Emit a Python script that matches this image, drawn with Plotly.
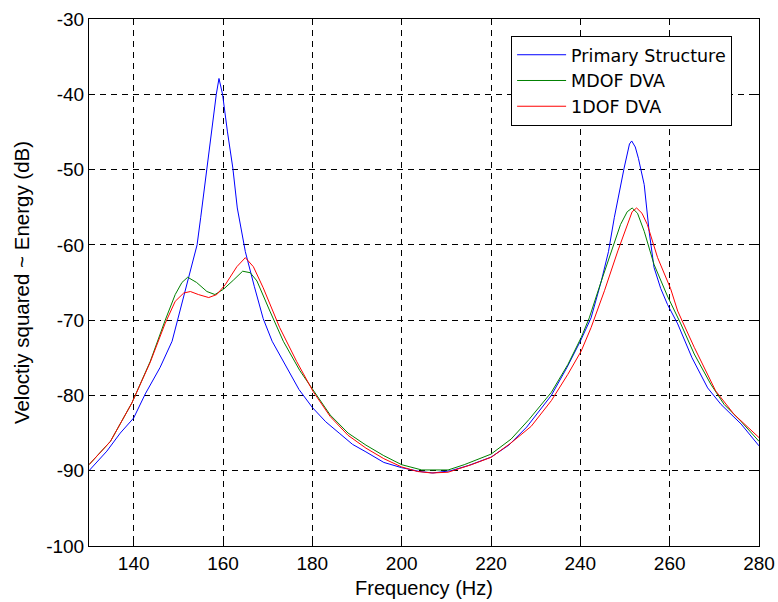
import plotly.graph_objects as go

# Primary Structure (blue)
freq_primary = [130, 134, 137, 140, 142.6, 145.9, 148.6, 150.4, 152.7, 154.2, 155, 156.4, 157.5,
                158.5, 159.1, 159.9, 161, 162.2, 163.2, 165, 167, 169, 171, 173, 175, 177, 180,
                183, 186, 189, 192, 196, 200, 204, 207, 211, 215, 220, 224, 228, 233.5, 237,
                240, 242.4, 244.7, 246.3, 247.6, 249, 249.8, 251, 251.5, 252.3, 253, 254.3,
                255.4, 256.5, 258, 259.5, 261.8, 265, 268.5, 271.5, 276, 280]
db_primary = [-90.0, -87.4, -85.0, -83.0, -79.8, -76.3, -72.8, -68.8, -63.5, -60.0, -56.4, -49.8, -44.5,
              -40.0, -37.9, -40.0, -45.0, -49.8, -55.1, -60.9, -65.5, -69.8, -72.8, -75.0, -77.2, -79.2, -81.6,
              -83.5, -85.0, -86.5, -87.5, -88.9, -89.6, -90.1, -90.3, -90.0, -89.3, -88.2, -86.6, -84.2, -80.0, -76.3,
              -72.8, -69.7, -64.8, -60.9, -56.4, -52.0, -49.8, -46.6, -46.2, -47.0, -48.5, -52.0,
              -58.2, -63.0, -65.8, -67.9, -70.5, -75.0, -79.0, -81.2, -83.8, -86.7]

# MDOF DVA (green)
freq_mdof = [130, 134.8, 139.6, 143.7, 147, 149.3, 150.8, 152.1, 154.1, 156.4, 158.2, 160.1, 162.3,
             164.4, 166.1, 167.6, 170.5, 173.5, 177.2, 180.9, 184, 188, 192, 196, 200, 204.5, 210.4,
             214, 220, 224.5, 228.5, 233.5, 237.2, 240.2, 242, 244.7, 246.9, 249, 250.5, 251.6,
             252.8, 254.3, 256.5, 259.5, 262.5, 265.5, 269.2, 272.2, 275.9, 280]
db_mdof = [-89.2, -86.1, -81.0, -75.5, -70.1, -66.6, -65.0, -64.3, -65.0, -66.2, -66.6, -65.9, -64.7,
           -63.5, -63.7, -64.8, -68.8, -72.8, -76.7, -79.9, -82.6, -85.0, -86.6, -88.0, -89.2, -89.9, -89.9,
           -89.2, -87.8, -85.8, -83.2, -79.6, -75.9, -72.3, -69.7, -64.8, -60.8, -57.3, -55.6, -55.1,
           -55.8, -58.2, -62.6, -66.8, -70.5, -74.5, -78.5, -81.2, -83.4, -86.1]

# 1DOF DVA (red)
freq_1dof = [130, 134.8, 139.6, 143.7, 147, 149.3, 151.2, 152.7, 154.5, 156.8, 158.6, 160.5, 163.1,
             165, 166.8, 169, 172.7, 176.5, 180.2, 184, 188, 192, 196, 200, 203.5, 206.7, 210.4,
             215.6, 220.1, 224.5, 229, 233.5, 237.2, 240.2, 242.4, 245.4, 248.4, 250.5, 251.6,
             252.6, 253.8, 255, 257.3, 260.2, 261.8, 265.5, 270.3, 274.4, 280]
db_1dof = [-89.2, -86.1, -81.0, -75.6, -70.5, -67.5, -66.4, -66.2, -66.6, -67.0, -66.6, -65.3, -62.9,
           -61.7, -62.9, -65.7, -71.0, -75.5, -79.5, -82.8, -85.3, -87.0, -88.4, -89.5, -90.1, -90.3, -90.2,
           -89.2, -88.2, -86.3, -84.1, -80.7, -77.2, -74.1, -71.0, -66.1, -60.8, -57.3, -55.6,
           -55.1, -55.8, -57.3, -61.7, -65.8, -68.8, -73.6, -79.4, -82.5, -85.6]

x_ticks = [140, 160, 180, 200, 220, 240, 260, 280]
y_ticks = [-100, -90, -80, -70, -60, -50, -40, -30]

FONT = "Liberation Sans, Arial, sans-serif"
LEGEND_FONT = "DejaVu Sans, Liberation Sans, sans-serif"

fig = go.Figure()
fig.add_trace(go.Scatter(x=freq_primary, y=db_primary, mode="lines", name="Primary Structure",
                         line=dict(color="#0000FF", width=1)))
fig.add_trace(go.Scatter(x=freq_mdof, y=db_mdof, mode="lines", name="MDOF DVA",
                         line=dict(color="#008000", width=1)))
fig.add_trace(go.Scatter(x=freq_1dof, y=db_1dof, mode="lines", name="1DOF DVA",
                         line=dict(color="#FF0000", width=1)))

axis_common = dict(
    showline=True, linecolor="black", linewidth=1, mirror="ticks",
    ticks="inside", ticklen=6, tickcolor="black", tickwidth=1,
    showgrid=True, gridcolor="black", gridwidth=0.8, griddash="6px,5px",
    zeroline=False, automargin=False,
    tickfont=dict(family=FONT, size=19, color="black"),
)

fig.update_layout(
    width=778, height=602,
    margin=dict(l=89, r=19, t=19, b=56),
    paper_bgcolor="white", plot_bgcolor="white",
    font=dict(family=FONT, size=19, color="black"),
    showlegend=True,
    legend=dict(
        x=0.630, y=0.968, xanchor="left", yanchor="top",
        bgcolor="white", bordercolor="black", borderwidth=1,
        font=dict(family=LEGEND_FONT, size=17.5, color="black"),
        tracegroupgap=0, itemwidth=49,
    ),
    xaxis=dict(range=[130, 280], tickvals=x_ticks, ticktext=[str(v) for v in x_ticks],
               ticklabelstandoff=0,
               title=dict(text="Frequency (Hz)", standoff=8,
                          font=dict(family=FONT, size=20, color="black")),
               **axis_common),
    yaxis=dict(range=[-100, -30], tickvals=y_ticks, ticktext=[str(v) for v in y_ticks],
               title=dict(text="Veloctiy squared ~ Energy (dB)", standoff=10,
                          font=dict(family=FONT, size=20.5, color="black")),
               **axis_common),
)

fig.write_html("out.html")
